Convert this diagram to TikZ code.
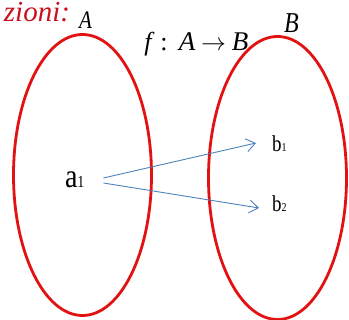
\documentclass[tikz,border=0pt]{standalone}
\usepackage{fontspec}
\setmainfont{Liberation Serif}
\usetikzlibrary{shapes.geometric,arrows.meta}
\definecolor{setred}{RGB}{226,18,18}
\definecolor{titlered}{RGB}{200,16,30}
\definecolor{arrblue}{RGB}{79,129,189}
\newcommand{\stretchy}[1]{\scalebox{1}[1.2]{#1}}
\newcommand{\fs}[1]{\fontsize{#1}{#1}\selectfont}
\tikzset{
  setbox/.style={ellipse, draw=setred, line width=2.8pt, inner sep=0pt, outer sep=0pt},
  lbl/.style={inner sep=0pt, outer sep=0pt, anchor=base west},
  mlbl/.style={inner sep=0pt, outer sep=0pt, anchor=base, font=\fs{26}},
  maparrow/.style={draw=arrblue, line width=0.9pt, -{Straight Barb[length=9pt,width=13pt]}}
}
\begin{document}
\begin{tikzpicture}[x=1pt,y=-1pt]
\useasboundingbox (0,0) rectangle (349,320);
\node[setbox, minimum width=138pt, minimum height=281pt] (SA) at (82.5,175) {};
\node[setbox, minimum width=138pt, minimum height=283pt] (SB) at (277.5,178) {};
\node[lbl, anchor=base east, text=titlered] (title) at (70,22) {\fs{29}\itshape zioni:};
\node[lbl] (labA) at (79,29) {\stretchy{\fs{21}\itshape A}};
\node[lbl] (labB) at (284,33) {\stretchy{\fs{24}\itshape B}};
% f : A -> B
\node[mlbl] (mf) at (148,51) {\itshape f};
\node[mlbl] (mcolon) at (164,51) {:};
\node[mlbl] (mA) at (187,51) {\fs{27}\itshape A};
\node[mlbl] (marrow) at (213.5,51) {\fs{23}$\rightarrow$};
\node[mlbl] (mB) at (240,51) {\fs{27}\itshape B};
% elements
\node[lbl] (a1) at (65,188) {\stretchy{\fs{28}a{\fs{14}1}}};
\node[lbl] (b1) at (272,152) {\stretchy{\fs{19}b{\fs{10}1}}};
\node[lbl] (b2) at (272,212) {\stretchy{\fs{19}b{\fs{10}2}}};
\draw[maparrow] ([xshift=19pt,yshift=10pt]a1.base east) -- ([xshift=-16pt,yshift=9pt]b1.base west);
\draw[maparrow] ([xshift=19pt,yshift=5pt]a1.base east) -- ([xshift=-13pt,yshift=4pt]b2.base west);
\end{tikzpicture}
\end{document}
